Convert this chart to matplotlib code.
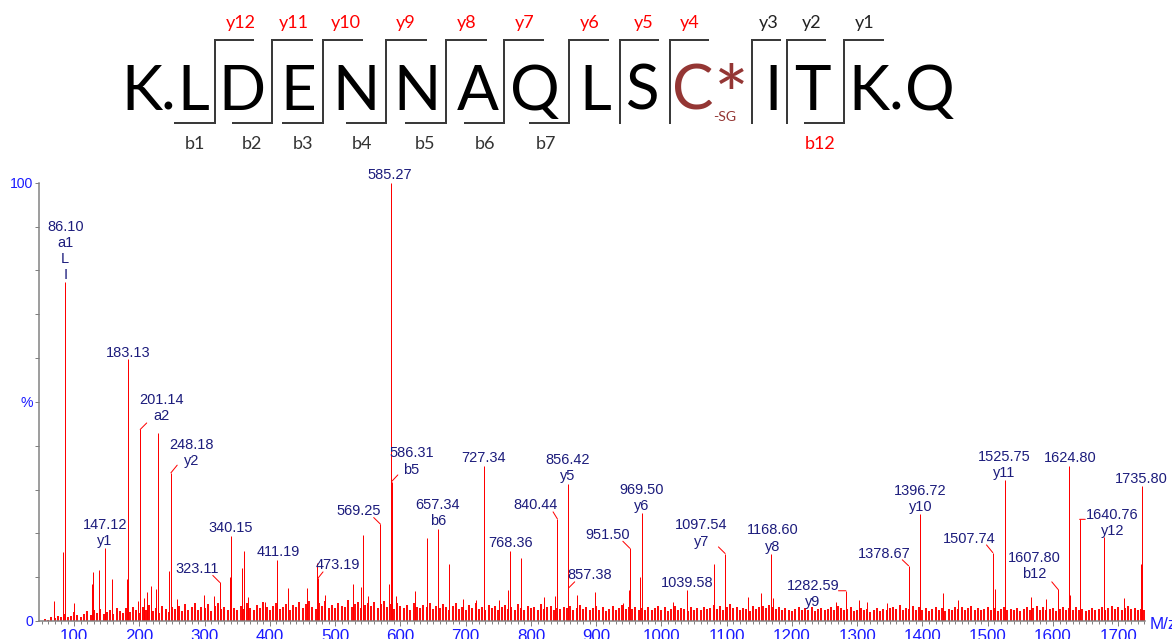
import numpy as np
import matplotlib.pyplot as plt

W, H = 1172, 639

# peptide and fragment ions
sequence = ['K', '.', 'L', 'D', 'E', 'N', 'N', 'A', 'Q', 'L', 'S', 'C', '*', 'I', 'T', 'K', '.', 'Q']
y_ions = ['y12', 'y11', 'y10', 'y9', 'y8', 'y7', 'y6', 'y5', 'y4', 'y3', 'y2', 'y1']
y_found = [True, True, True, True, True, True, True, True, True, False, False, False]
b_ions = ['b1', 'b2', 'b3', 'b4', 'b5', 'b6', 'b7', 'b12']
b_found = [False, False, False, False, False, False, False, True]

# labelled peaks (m/z, % intensity, label)
peak_mz = [86.10, 147.12, 183.13, 201.14, 248.18, 323.11, 340.15, 411.19, 473.19, 569.25,
           585.27, 586.31, 657.34, 727.34, 768.36, 840.44, 856.42, 857.38, 951.50, 969.50,
           1039.58, 1097.54, 1168.60, 1282.59, 1378.67, 1396.72, 1507.74, 1525.75, 1607.80,
           1624.80, 1640.76, 1735.80]
peak_int = [77.3, 16.7, 59.8, 43.7, 33.8, 8.8, 19.4, 13.9, 9.7, 22.1,
            100.0, 31.8, 21.0, 35.4, 16.0, 23.3, 31.3, 7.5, 16.6, 24.6,
            7.1, 15.4, 15.4, 6.9, 12.6, 24.4, 15.6, 32.2, 7.2,
            35.4, 23.2, 30.8]
peak_label = ['86.10\na1\nL\nI', '147.12\ny1', '183.13', '201.14\na2', '248.18\ny2', '323.11',
              '340.15', '411.19', '473.19', '569.25', '585.27', '586.31\nb5', '657.34\nb6',
              '727.34', '768.36', '840.44', '856.42\ny5', '857.38', '951.50', '969.50\ny6',
              '1039.58', '1097.54\ny7', '1168.60\ny8', '1282.59\ny9', '1378.67', '1396.72\ny10',
              '1507.74', '1525.75\ny11', '1607.80\nb12', '1624.80', '1640.76\ny12', '1735.80']

# unlabelled peaks
other_mz = [69.7, 83.5, 99.9, 127.9, 129.5, 137.7, 157.6, 181.5, 198.0, 207.6, 211.7, 217.4,
            226.0, 229.0, 245.0, 257.2, 299.0, 313.9, 338.5, 357.7, 359.9, 366.9, 392.5, 428.2,
            457.3, 471.7, 484.9, 527.3, 539.1, 543.1, 550.5, 583.0, 593.2, 622.3, 640.2, 674.4,
            695.4, 715.3, 751.5, 764.3, 784.2, 820.4, 837.3, 871.0, 898.6, 941.5, 950.2, 967.5,
            1017.2, 1081.0, 1132.9, 1152.9, 1170.3, 1267.3, 1303.0, 1314.3, 1345.9, 1431.7,
            1453.8, 1511.0, 1565.6, 1589.1, 1625.8, 1678.4, 1708.6, 1734.6]
other_int = [4.6, 15.8, 4.2, 8.4, 11.1, 11.6, 9.5, 9.6, 4.6, 5.2, 6.6, 8.0,
             7.3, 43.0, 11.4, 5.0, 5.9, 5.7, 10.0, 12.0, 16.0, 5.5, 4.4, 7.6,
             7.5, 13.2, 5.9, 8.4, 7.7, 19.6, 5.7, 8.4, 5.6, 6.9, 19.0, 13.0,
             5.0, 4.7, 4.7, 7.1, 14.3, 5.4, 5.6, 5.9, 6.7, 4.2, 7.1, 10.0,
             4.3, 13.0, 5.4, 6.3, 5.2, 4.4, 4.8, 4.4, 4.1, 6.5,
             4.8, 7.2, 5.4, 5.0, 5.9, 19.1, 5.3, 13.0]

# baseline noise, one value every 5 Da from 55
noise_start, noise_step = 55, 5
noise_int = [
    0.5, 0.3, 0.8, 0.6, 1.2, 0.9, 1.5, 0.8, 1.1, 2.0, 1.4, 0.9, 1.6, 2.2, 1.3, 2.5, 1.8, 2.8, 1.5, 2.1,
    2.4, 1.6, 3.0, 2.2, 1.8, 2.9, 2.1, 3.3, 2.5, 1.9, 3.1, 2.6, 3.6, 2.2, 2.9, 1.8, 3.4, 2.7, 2.0, 3.2,
    2.8, 3.5, 2.3, 3.9, 2.6, 3.1, 4.2, 2.4, 3.3, 2.9, 3.8, 2.2, 3.5, 4.0, 2.7, 3.2, 2.5, 3.9, 3.0, 2.6,
    3.4, 2.8, 4.1, 3.0, 2.5, 3.7, 2.9, 4.3, 3.1, 2.6, 3.5, 4.0, 2.8, 3.3, 3.9, 2.4, 3.6, 3.1, 4.4, 2.9,
    3.8, 4.5, 3.2, 2.7, 4.0, 3.4, 4.6, 3.0, 3.7, 2.9, 4.2, 3.5, 3.1, 4.8, 3.3, 3.9, 4.4, 3.0, 3.6, 4.1,
    3.5, 4.3, 3.0, 3.8, 4.6, 3.2, 3.9, 2.8, 4.1, 3.4, 3.0, 3.7, 2.6, 4.0, 3.3, 2.9, 3.6, 3.1, 4.2, 2.7,
    3.4, 2.9, 3.8, 3.1, 2.6, 3.5, 4.0, 2.8, 3.3, 2.5, 3.7, 3.0, 4.1, 2.7, 3.2, 2.4, 3.6, 2.9, 3.4, 2.6,
    3.1, 3.7, 2.8, 3.3, 2.5, 3.9, 3.0, 2.6, 3.5, 2.9, 3.2, 2.4, 3.8, 2.7, 3.1, 3.5, 2.6, 3.0, 2.8, 3.3,
    2.9, 3.4, 2.5, 3.0, 3.6, 2.7, 3.2, 2.4, 2.9, 3.5, 2.6, 3.1, 2.3, 2.8, 3.4, 2.5, 3.0, 3.6, 2.7, 3.2,
    2.8, 3.3, 2.5, 3.0, 2.6, 3.2, 2.4, 2.9, 3.4, 2.6, 3.1, 2.3, 2.8, 3.5, 2.5, 3.0, 2.7, 2.2, 3.2, 2.6,
    2.9, 2.4, 3.3, 2.7, 3.0, 3.6, 2.8, 3.4, 2.6, 3.1, 3.8, 2.9, 3.2, 2.5, 3.0, 2.7, 2.3, 3.5, 2.8, 3.1,
    3.4, 2.9, 3.7, 3.1, 2.7, 3.3, 2.5, 3.0, 2.6, 2.2, 2.8, 3.2, 2.4, 2.9, 2.6, 3.1, 2.3, 2.7, 3.0, 2.5,
    2.8, 3.2, 2.6, 3.5, 2.9, 2.4, 2.7, 3.1, 2.2, 2.6, 3.0, 2.4, 2.8, 2.1, 2.6, 3.0, 2.3, 2.7, 2.5, 2.9,
    3.3, 2.7, 3.6, 2.5, 3.0, 2.8, 3.4, 2.6, 3.1, 2.4, 2.9, 2.2, 2.7, 3.2, 2.5, 3.0, 2.3, 2.8, 2.6, 3.1,
    2.7, 3.2, 2.5, 2.9, 3.4, 2.6, 3.0, 2.4, 2.8, 3.3, 2.5, 2.9, 2.2, 2.7, 3.1, 2.4, 2.8, 2.6, 3.0, 2.3,
    2.7, 3.1, 2.5, 2.9, 3.4, 2.6, 3.2, 2.4, 2.8, 3.0, 2.3, 2.7, 3.3, 2.5, 2.9, 2.6, 3.1, 2.4, 2.8, 2.2,
    2.6, 3.0, 2.4, 2.8, 3.2, 2.5, 2.9, 3.4, 2.7, 3.1, 2.5, 2.9, 3.5, 2.7, 3.0, 2.4, 2.8, 2.6, 1.0, 0.0,
]

# ---------------- layout (pixels) ----------------
seq_x = [142, 168, 193, 242, 298, 356, 417, 478, 535, 595, 642, 693, 731, 773, 812, 869, 896, 930]
cut_x = [215, 272, 323, 386, 446, 504, 569, 620, 670, 752, 787, 844]
y_line_end = [253, 312, 362, 426, 486, 543, 608, 658, 708, 780, 825, 883]
b_line_start = [175, 233, 283, 347, 406, 465, 530, None, None, None, None, 805]
y_label_x = [241, 294, 346, 406, 467, 525, 590, 644, 690, 769, 812, 865]
b_label_x = [195, 252, 303, 362, 425, 485, 546, 820]

# label offsets from peak top (px): text centre dx, last-line baseline dy, leader end
label_dx = [0, 0, 0, 21, 21, -23, 0, 1, 20, -22,
            -1, 20, 0, 0, 0, -22, 0, 21, -22, 0,
            0, -24, 1, -33, -24, 0, -24, 0, -24,
            1, 33, 0]
label_dy = [3, 3, 2, 9, 8, 9, 3.5, 4, 9, 9,
            4, 8, 4, 4, 4, 10, 4, 9, 9, 3,
            3, 8, 3, -15, 8, 3, 10, 2.5, 11,
            3.5, -16, 3.5]
leader = {3: (6.5, 6.5), 4: (6.3, 7.7), 5: (-7, 7), 8: (5.3, 6.6), 9: (-6.7, 6.6),
          11: (6.3, 6.7), 15: (-4.3, 7), 17: (6.3, 6.3), 18: (-7, 7), 21: (-6.7, 6.6),
          23: (-7.4, 0), 24: (-6.3, 6), 26: (-6.3, 7.7), 28: (-6.3, 7.6), 30: (5.7, 0)}

red = '#ff0000'
navy = '#1c1c7c'
blue = '#1a1aff'
gray = '#808080'
dark = '#3a3a3a'
cys = '#943634'

fig = plt.figure(figsize=(W / 72, H / 72), dpi=72)


def fx(px):
    return px / W


def fy(py):
    return 1 - py / H


# peptide sequence
for aa, x in zip(sequence, seq_x):
    col = cys if aa in ('C', '*') else 'black'
    if aa == '*':
        fig.text(fx(x), fy(124), aa, ha='center', va='baseline', fontsize=82,
                 family='Lato', color=col)
    else:
        fig.text(fx(x), fy(110), aa, ha='center', va='baseline', fontsize=62,
                 family='Lato', color=col)
fig.text(fx(725), fy(121), '-SG', ha='center', va='baseline', fontsize=14,
         family='Lato', color=cys)

top_y, bot_y = 40, 123
for i, x in enumerate(cut_x):
    fig.add_artist(plt.Line2D([fx(x), fx(x)], [fy(bot_y), fy(top_y)], color=dark, lw=2))
    fig.add_artist(plt.Line2D([fx(x), fx(y_line_end[i])], [fy(top_y), fy(top_y)], color=dark, lw=2))
    if b_line_start[i] is not None:
        fig.add_artist(plt.Line2D([fx(b_line_start[i]), fx(x)], [fy(bot_y), fy(bot_y)], color=dark, lw=2))

for name, ok, x in zip(y_ions, y_found, y_label_x):
    fig.text(fx(x), fy(28), name, ha='center', va='baseline', fontsize=18,
             family='Lato', color=red if ok else '#222222')
for name, ok, x in zip(b_ions, b_found, b_label_x):
    fig.text(fx(x), fy(149), name, ha='center', va='baseline', fontsize=18,
             family='Lato', color=red if ok else '#333333')

# spectrum
ax = fig.add_axes([39.3 / W, 18 / H, (1145 - 39.3) / W, (621 - 182.7) / H])
noise_mz = noise_start + noise_step * np.arange(len(noise_int))
ax.vlines(noise_mz, 0, noise_int, color=red, lw=1.9)
ax.vlines(other_mz, 0, other_int, color=red, lw=1)
ax.vlines(peak_mz, 0, peak_int, color=red, lw=1)

for i, (mz, h, lab) in enumerate(zip(peak_mz, peak_int, peak_label)):
    ax.annotate(lab, xy=(mz, h), xytext=(label_dx[i], label_dy[i] - 3),
                textcoords='offset points', ha='center', va='bottom',
                fontsize=14.5, family='Liberation Sans', color=navy,
                linespacing=1.2, annotation_clip=False)
    if i in leader:
        ax.annotate('', xy=(mz, h), xytext=leader[i], textcoords='offset points',
                    arrowprops=dict(arrowstyle='-', color=red, lw=1, shrinkA=0, shrinkB=0),
                    annotation_clip=False)

ax.set_xlim(46.5, 1741)
ax.set_ylim(0, 100)
for s in ['top', 'right']:
    ax.spines[s].set_visible(False)
for s in ['left', 'bottom']:
    ax.spines[s].set_color(gray)
    ax.spines[s].set_linewidth(1.5)

ax.set_xticks(np.arange(100, 1701, 100))
ax.set_xticks(np.arange(50, 1741, 10), minor=True)
ax.set_yticks([0, 50, 100])
ax.set_yticklabels(['0', '%', '100'])
ax.set_yticks(np.arange(0, 101, 10), minor=True)
ax.tick_params(axis='both', which='both', direction='out', color=gray, width=1,
               labelcolor=blue, labelsize=14)
ax.tick_params(axis='x', which='major', length=5, pad=3, labelsize=17)
ax.tick_params(axis='x', which='minor', length=3)
ax.tick_params(axis='y', which='both', length=4, pad=2)
for t in ax.get_xticklabels() + ax.get_yticklabels():
    t.set_family('Liberation Sans')

fig.text(fx(1150), fy(629), 'M/z', ha='left', va='baseline', fontsize=17,
         family='Liberation Sans', color=blue)

fig.savefig('out.png', dpi=72)
